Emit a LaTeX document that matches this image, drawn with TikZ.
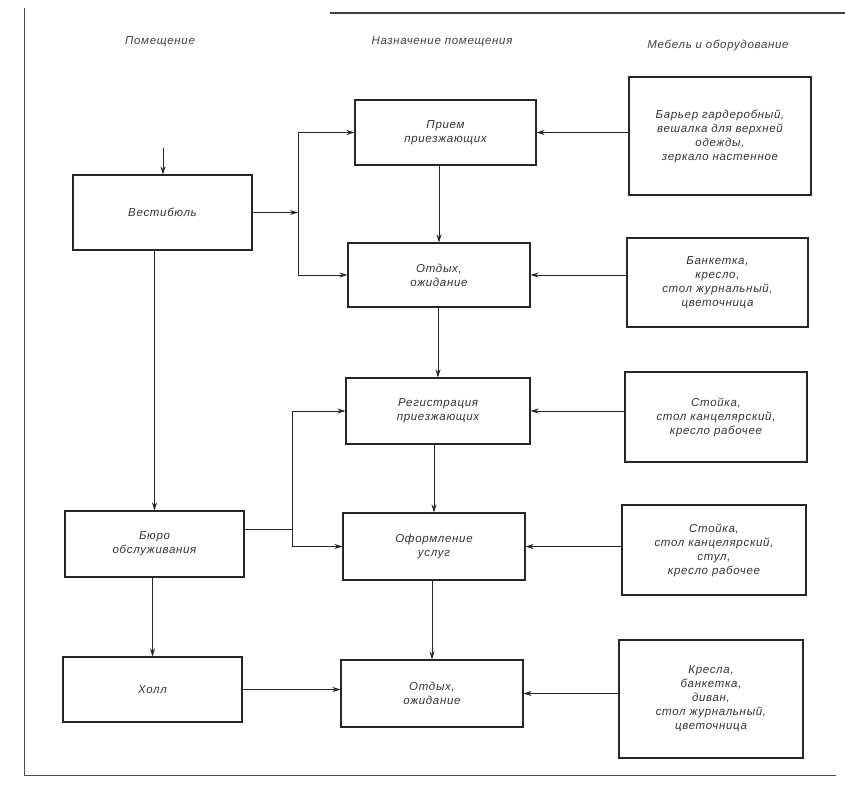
\documentclass[tikz,border=0pt]{standalone}
\usepackage{fontspec}
\setmainfont{Liberation Sans}
\newfontfamily\lbl[LetterSpace=6]{Liberation Sans}
\usetikzlibrary{arrows.meta}
\tikzset{
  box/.style={draw=black!85, line width=1.1pt, align=center, inner sep=0pt,
    font=\lbl\itshape\fontsize{11.5}{14}\selectfont, text=black!80},
  hdr/.style={font=\lbl\itshape\fontsize{11.5}{14}\selectfont, text=black!75},
  arr/.style={draw=black!85, line width=0.8pt, -{Stealth[length=8pt,width=5pt]}},
  ln/.style={draw=black!85, line width=0.8pt},
}
\begin{document}
\begin{tikzpicture}[x=1pt,y=-1pt]
\useasboundingbox (0,0) rectangle (845,794);
% frame
\draw[line width=1pt, black!70] (24,8) -- (24,775) -- (836,775);
\draw[line width=1.2pt, black!75] (330,13) -- (845,13);
% headers
\node[hdr] (h1) at (160,42) {Помещение};
\node[hdr] (h2) at (442,42) {Назначение помещения};
\node[hdr] (h3) at (718,45) {Мебель и оборудование};
% left column
\node[box, minimum width=179, minimum height=75] (vest) at (162.5,212.5) {Вестибюль};
\node[box, minimum width=179, minimum height=66] (buro) at (154.5,544) {Бюро\\обслуживания};
\node[box, minimum width=179, minimum height=65] (hall) at (152.5,689.5) {Холл};
% middle column
\node[box, minimum width=181, minimum height=65] (priem) at (445.5,132.5) {Прием\\приезжающих};
\node[box, minimum width=182, minimum height=64] (otd1) at (439,275) {Отдых,\\ожидание};
\node[box, minimum width=184, minimum height=66] (reg) at (438,411) {Регистрация\\приезжающих};
\node[box, minimum width=182, minimum height=67] (oform) at (434,546.5) {Оформление\\услуг};
\node[box, minimum width=182, minimum height=67] (otd2) at (432,693.5) {Отдых,\\ожидание};
% right column
\node[box, minimum width=182, minimum height=118] (r1) at (720,136) {Барьер гардеробный,\\вешалка для верхней\\одежды,\\зеркало настенное};
\node[box, minimum width=181, minimum height=89] (r2) at (717.5,282.5) {Банкетка,\\кресло,\\стол журнальный,\\цветочница};
\node[box, minimum width=182, minimum height=90] (r3) at (716,417) {Стойка,\\стол канцелярский,\\кресло рабочее};
\node[box, minimum width=184, minimum height=90] (r4) at (714,550) {Стойка,\\стол канцелярский,\\стул,\\кресло рабочее};
\node[box, minimum width=184, minimum height=118] (r5) at (711,699) {Кресла,\\банкетка,\\диван,\\стол журнальный,\\цветочница};
% coordinates
\coordinate (in) at (163,148);
\coordinate (b1t) at (298,132.5);
\coordinate (b1m) at (298,212.5);
\coordinate (b1b) at (298,275);
\coordinate (b2t) at (292,411);
\coordinate (b2m) at (292,529);
\coordinate (b2b) at (292,546.5);
% connectors
\draw[arr] (in) -- (in |- vest.north);
\draw[arr] (vest.east) -- (b1m);
\draw[ln] (b1t) -- (b1b);
\draw[arr] (b1t) -- (priem.west);
\draw[arr] (b1b) -- (otd1.west);
\draw[arr] (priem.south -| otd1.north) -- (otd1.north);
\draw[arr] (otd1.south -| reg.north) -- (reg.north);
\draw[arr] (reg.south -| oform.north) -- (oform.north);
\draw[arr] (oform.south -| otd2.north) -- (otd2.north);
\draw[arr] (vest.south -| buro.north) -- (buro.north);
\draw[arr] (buro.south -| hall.north) -- (hall.north);
\draw[ln] (buro.east |- b2m) -- (b2m);
\draw[ln] (b2t) -- (b2b);
\draw[arr] (b2t) -- (reg.west);
\draw[arr] (b2b) -- (oform.west);
\draw[arr] (hall.east) -- (hall.east -| otd2.west);
\draw[arr] (priem.east -| r1.west) -- (priem.east);
\draw[arr] (otd1.east -| r2.west) -- (otd1.east);
\draw[arr] (reg.east -| r3.west) -- (reg.east);
\draw[arr] (oform.east -| r4.west) -- (oform.east);
\draw[arr] (otd2.east -| r5.west) -- (otd2.east);
\end{tikzpicture}
\end{document}
